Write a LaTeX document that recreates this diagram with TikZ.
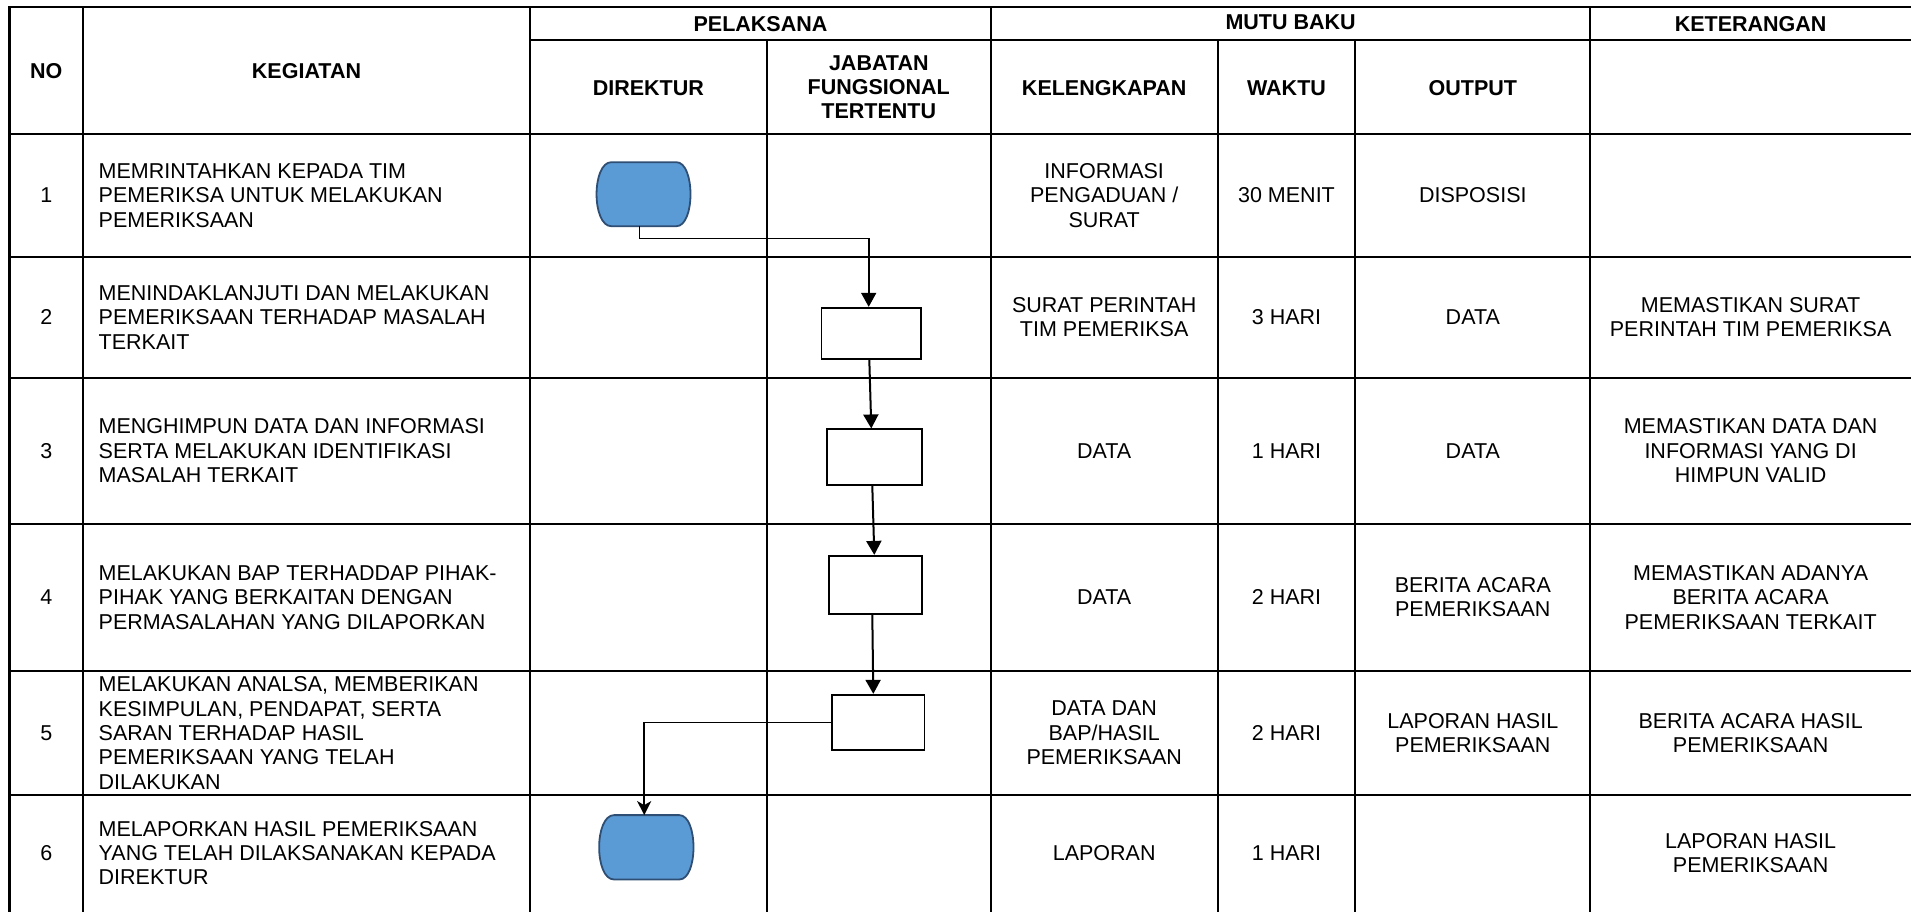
\documentclass[tikz,border=0pt]{standalone}
\usepackage{fontspec}
\setmainfont{Liberation Sans}
\usetikzlibrary{arrows.meta,calc}
\definecolor{termfill}{HTML}{5B9BD5}
\definecolor{termline}{HTML}{2F4E74}
\begin{document}
\begin{tikzpicture}[x=1pt,y=-1pt,
  grid/.style={line width=2.2pt,black,line cap=rect},
  txt/.style={inner sep=0pt,align=center,font=\fontsize{21.5}{24.4}\selectfont},
  ltxt/.style={inner sep=0pt,align=left,anchor=west,font=\fontsize{21.5}{24.4}\selectfont},
  hd/.style={inner sep=0pt,align=center,font=\fontsize{21.5}{24.4}\selectfont\bfseries},
  procbox/.style={draw,line width=1.7pt,rectangle,inner sep=0pt},
  termbase/.style={rectangle,inner sep=0pt,draw=none},
  termshape/.style={fill=termfill,draw=termline,line width=1.8pt},
  flow/.style={line width=2pt,-{Triangle[width=15pt,length=14pt]}},
  thinflow/.style={line width=1.6pt,-{Triangle[width=15pt,length=14pt]}},
  notchflow/.style={line width=1.7pt,-{Stealth[width=14pt,length=14pt,inset=4pt]}},
]
\useasboundingbox (0,0) rectangle (1911,911);

% ---------- grid ----------
\draw[grid] (9.5,911) -- (9.5,7.3) -- (1911,7.3);
\draw[grid] (530,40) -- (1911,40);
\foreach \yy in {134.3,256.7,377.7,523.7,671,795}
  \draw[grid] (9.5,\yy) -- (1911,\yy);
\foreach \xx in {83,530,990.9,1590.3}
  \draw[grid] (\xx,7.3) -- (\xx,911);
\foreach \xx in {766.7,1217.6,1355.3}
  \draw[grid] (\xx,40) -- (\xx,911);

% ---------- headers ----------
\node[hd] (hNo) at (46.3,70.8) {NO};
\node[hd] (hKeg) at (306.5,70.8) {KEGIATAN};
\node[hd] (hPel) at (760.5,23.7) {PELAKSANA};
\node[hd] (hMutu) at (1290.6,22) {MUTU BAKU};
\node[hd] (hKet) at (1750.6,24) {KETERANGAN};
\node[hd] (hDir) at (648.3,88) {DIREKTUR};
\node[hd] (hJft) at (878.8,87.2) {JABATAN\\FUNGSIONAL\\TERTENTU};
\node[hd] (hKel) at (1104.2,88) {KELENGKAPAN};
\node[hd] (hWak) at (1286.5,88) {WAKTU};
\node[hd] (hOut) at (1472.8,88) {OUTPUT};

% ---------- row 1 ----------
\node[txt] (n1) at (46.3,195.5) {1};
\node[ltxt] (k1) at (98.5,195.5) {MEMRINTAHKAN KEPADA TIM\\PEMERIKSA UNTUK MELAKUKAN\\PEMERIKSAAN};
\node[txt] (l1) at (1104.2,195.5) {INFORMASI\\PENGADUAN /\\SURAT};
\node[txt] (w1) at (1286.5,195.5) {30 MENIT};
\node[txt] (o1) at (1472.8,195.5) {DISPOSISI};

% ---------- row 2 ----------
\node[txt] (n2) at (46.3,317.2) {2};
\node[ltxt] (k2) at (98.5,317.2) {MENINDAKLANJUTI DAN MELAKUKAN\\PEMERIKSAAN TERHADAP MASALAH\\TERKAIT};
\node[txt] (l2) at (1104.2,317.2) {SURAT PERINTAH\\TIM PEMERIKSA};
\node[txt] (w2) at (1286.5,317.2) {3 HARI};
\node[txt] (o2) at (1472.8,317.2) {DATA};
\node[txt] (e2) at (1750.6,317.2) {MEMASTIKAN SURAT\\PERINTAH TIM PEMERIKSA};

% ---------- row 3 ----------
\node[txt] (n3) at (46.3,450.7) {3};
\node[ltxt] (k3) at (98.5,450.7) {MENGHIMPUN DATA DAN INFORMASI\\SERTA MELAKUKAN IDENTIFIKASI\\MASALAH TERKAIT};
\node[txt] (l3) at (1104.2,450.7) {DATA};
\node[txt] (w3) at (1286.5,450.7) {1 HARI};
\node[txt] (o3) at (1472.8,450.7) {DATA};
\node[txt] (e3) at (1750.6,450.7) {MEMASTIKAN DATA DAN\\INFORMASI YANG DI\\HIMPUN VALID};

% ---------- row 4 ----------
\node[txt] (n4) at (46.3,597.3) {4};
\node[ltxt] (k4) at (98.5,597.3) {MELAKUKAN BAP TERHADDAP PIHAK-\\PIHAK YANG BERKAITAN DENGAN\\PERMASALAHAN YANG DILAPORKAN};
\node[txt] (l4) at (1104.2,597.3) {DATA};
\node[txt] (w4) at (1286.5,597.3) {2 HARI};
\node[txt] (o4) at (1472.8,597.3) {BERITA ACARA\\PEMERIKSAAN};
\node[txt] (e4) at (1750.6,597.3) {MEMASTIKAN ADANYA\\BERITA ACARA\\PEMERIKSAAN TERKAIT};

% ---------- row 5 ----------
\node[txt] (n5) at (46.3,733) {5};
\node[ltxt] (k5) at (98.5,733) {MELAKUKAN ANALSA, MEMBERIKAN\\KESIMPULAN, PENDAPAT, SERTA\\SARAN TERHADAP HASIL\\PEMERIKSAAN YANG TELAH\\DILAKUKAN};
\node[txt] (l5) at (1104.2,733) {DATA DAN\\BAP/HASIL\\PEMERIKSAAN};
\node[txt] (w5) at (1286.5,733) {2 HARI};
\node[txt] (o5) at (1472.8,733) {LAPORAN HASIL\\PEMERIKSAAN};
\node[txt] (e5) at (1750.6,733) {BERITA ACARA HASIL\\PEMERIKSAAN};

% ---------- row 6 ----------
\node[txt] (n6) at (46.3,853) {6};
\node[ltxt] (k6) at (98.5,853) {MELAPORKAN HASIL PEMERIKSAAN\\YANG TELAH DILAKSANAKAN KEPADA\\DIREKTUR};
\node[txt] (l6) at (1104.2,853) {LAPORAN};
\node[txt] (w6) at (1286.5,853) {1 HARI};
\node[txt] (e6) at (1750.6,853) {LAPORAN HASIL\\PEMERIKSAAN};

% ---------- flow shapes ----------
\node[termbase,minimum width=95.3pt,minimum height=63.7pt] (t1) at (643.4,194.2) {};
\node[termbase,minimum width=95.7pt,minimum height=64pt] (t6) at (646.2,847.3) {};
\foreach \t in {t1,t6}{
  \draw[termshape] ($(\t.north west)+(16,0)$) -- ($(\t.north east)+(-15,0)$)
    .. controls ($(\t.north east)+(4,0)$) and ($(\t.south east)+(4,0)$) .. ($(\t.south east)+(-15,0)$)
    -- ($(\t.south west)+(16,0)$)
    .. controls ($(\t.south west)+(-4,0)$) and ($(\t.north west)+(-4,0)$) .. cycle;
}
\node[procbox,minimum width=99.7pt,minimum height=51pt] (b2) at (871.2,333.2) {};
\node[procbox,minimum width=95pt,minimum height=56pt] (b3) at (874.2,457.3) {};
\node[procbox,minimum width=92.4pt,minimum height=58.3pt] (b4) at (875.5,584.9) {};
\node[procbox,minimum width=92.3pt,minimum height=55.6pt] (b5) at (878.2,722.5) {};

% ---------- connectors ----------
\draw[thinflow] ($(t1.south)+(-4,0)$) -- ++(0,12.3) -| ($(b2.north)+(-2.5,0)$);
\draw[flow] ($(b2.south)+(-1.9,0)$) -- ($(b3.north)+(-2.9,0)$);
\draw[flow] ($(b3.south)+(-1.9,0)$) -- ($(b4.north)+(-1.2,0)$);
\draw[flow] ($(b4.south)+(-3.2,0)$) -- ($(b5.north)+(-4.9,0)$);
\draw[notchflow] (b5.west) -| ($(t6.north)+(-2,0)$);
\end{tikzpicture}
\end{document}
